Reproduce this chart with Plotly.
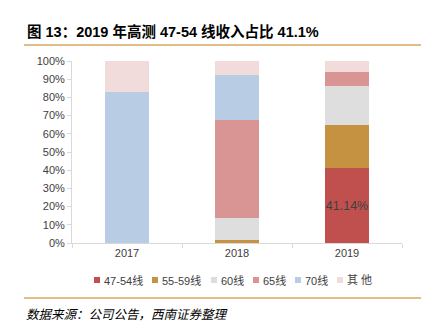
import plotly.graph_objects as go

years = ["2017", "2018", "2019"]
series_names = ["47-54线", "55-59线", "60线", "65线", "70线", "其他"]
s_4754 = [0.0, 0.0, 0.4114]
s_5559 = [0.0, 0.016, 0.237]
s_60 = [0.0, 0.123, 0.215]
s_65 = [0.0, 0.537, 0.077]
s_70 = [0.828, 0.247, 0.0]
s_other = [0.172, 0.077, 0.06]
colors = ["#C0504D", "#C59241", "#DEDEDE", "#D99594", "#B8CCE4", "#F2DCDB"]
label_4754 = ["", "", "41.14%"]
legend_labels = ["47-54线", "55-59线", "60线", "65线", "70线", "其 他"]

all_series = [s_4754, s_5559, s_60, s_65, s_70, s_other]

W, H = 427, 332
L, R, T, B = 72, 402, 61, 243
pw, ph = R - L, B - T

def px(x):
    return (x - L) / pw

def py(y):
    return (B - y) / ph

fig = go.Figure()
for i, (name, vals, col) in enumerate(zip(series_names, all_series, colors)):
    fig.add_trace(go.Bar(
        x=years, y=vals, name=name, marker=dict(color=col, line=dict(width=0)),
        text=label_4754 if i == 0 else None,
        textposition="inside" if i == 0 else None,
        insidetextanchor="middle",
        textangle=0,
        constraintext="none",
        textfont=dict(color="#404040", size=12.5, family="Liberation Sans, Arial"),
        hoverinfo="skip",
        showlegend=False,
    ))

fig.update_layout(
    barmode="stack",
    bargap=0.6,
    width=W, height=H,
    margin=dict(l=L, r=W - R, t=T, b=H - B),
    paper_bgcolor="white", plot_bgcolor="white",
    font=dict(family="Liberation Sans, Arial, Noto Sans CJK SC", size=11, color="#333333"),
    showlegend=False,
    uniformtext=dict(mode=False),
)
fig.update_xaxes(type="category", tickson="boundaries", ticks="outside", ticklen=4,
                 tickcolor="#D9D9D9", showline=True, linecolor="#D9D9D9", linewidth=1,
                 showgrid=False, tickfont=dict(size=11, color="#404040"), fixedrange=True)
fig.update_yaxes(range=[0, 1], tickvals=[i / 10 for i in range(11)], tickformat=".0%",
                 ticks="outside", ticklen=4, tickcolor="#D9D9D9", showline=True,
                 linecolor="#D9D9D9", linewidth=1, showgrid=False, zeroline=False,
                 tickfont=dict(size=11, color="#404040"), fixedrange=True)

# custom legend (single row)
leg_x = [94, 152, 211, 253, 295, 337]
leg_y = 280
for lx, lab, col in zip(leg_x, legend_labels, colors):
    fig.add_shape(type="rect", xref="paper", yref="paper",
                  x0=px(lx), x1=px(lx + 6), y0=py(leg_y + 3), y1=py(leg_y - 3),
                  fillcolor=col, line=dict(width=0))
    fig.add_annotation(xref="paper", yref="paper", x=px(lx + 7.5), y=py(leg_y),
                       xanchor="left", yanchor="middle", text=lab, showarrow=False,
                       font=dict(size=11, color="#404040", family="Liberation Sans, Noto Sans CJK SC"))

fig.add_shape(type="line", xref="paper", yref="paper", x0=px(24), x1=px(421), y0=py(45), y1=py(45),
              line=dict(color="#D9A760", width=1.5))
fig.add_shape(type="line", xref="paper", yref="paper", x0=px(24), x1=px(421), y0=py(298), y1=py(298),
              line=dict(color="#D9A760", width=1.5))
fig.add_annotation(xref="paper", yref="paper", x=px(25), y=py(32), xanchor="left", yanchor="middle",
                   text="<b>图 13：2019 年高测 47-54 线收入占比 41.1%</b>", showarrow=False,
                   font=dict(size=14.5, color="#000000", family="Liberation Sans, Noto Sans CJK SC"))
fig.add_annotation(xref="paper", yref="paper", x=px(24), y=py(313), xanchor="left", yanchor="middle",
                   text="<i>数据来源：公司公告，西南证券整理</i>", showarrow=False,
                   font=dict(size=12.5, color="#000000", family="Noto Sans CJK SC"))

fig.write_html("out.html", config={"displayModeBar": False})
